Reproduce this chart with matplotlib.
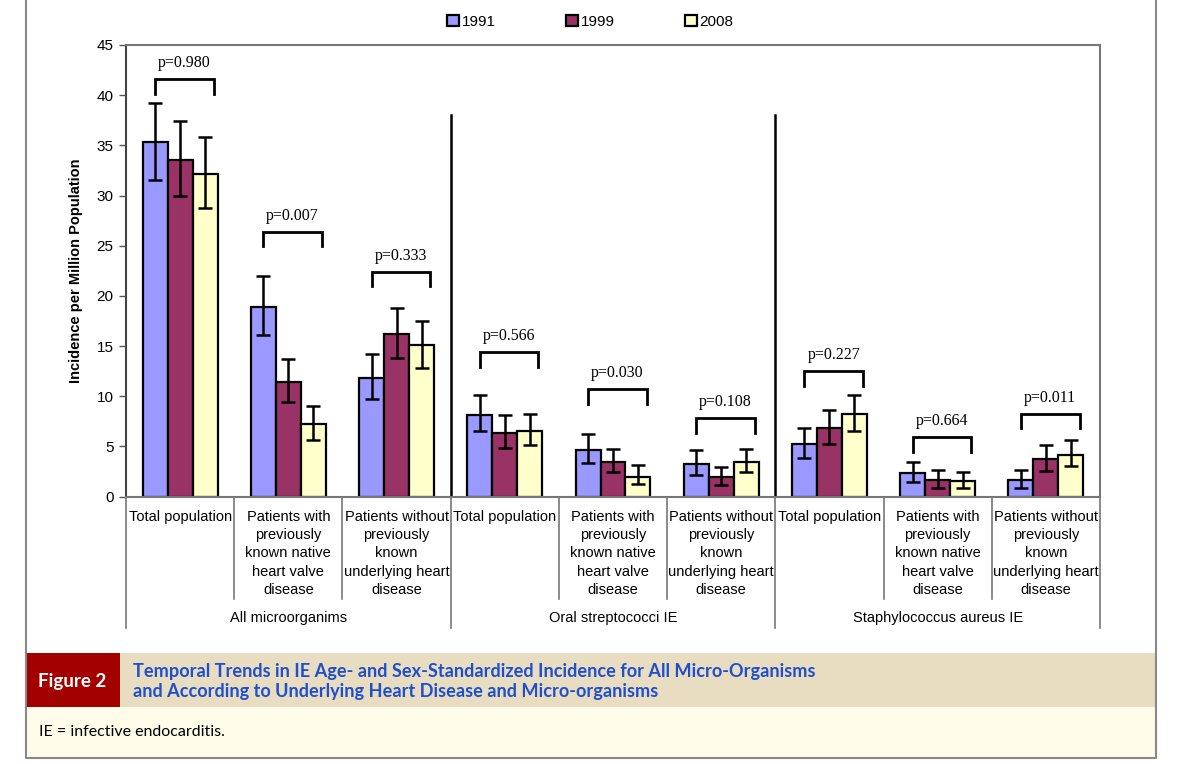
import matplotlib
matplotlib.use('Agg')
import matplotlib.pyplot as plt
from matplotlib.patches import Rectangle
from matplotlib.lines import Line2D
import numpy as np

plt.rcParams['font.family'] = ['Liberation Sans', 'DejaVu Sans']

years = ['1991', '1999', '2008']
categories = ['Total population',
              'Patients with\npreviously\nknown native\nheart valve\ndisease',
              'Patients without\npreviously\nknown\nunderlying heart\ndisease'] * 3
groups = ['All microorganims', 'Oral streptococci IE', 'Staphylococcus aureus IE']

y1991 = [35.3, 18.9, 11.8, 8.1, 4.6, 3.2, 5.2, 2.3, 1.6]
lo1991 = [31.5, 16.1, 9.7, 6.5, 3.3, 2.1, 3.8, 1.4, 0.8]
hi1991 = [39.2, 22.0, 14.2, 10.1, 6.2, 4.6, 6.8, 3.4, 2.6]
y1999 = [33.5, 11.4, 16.2, 6.3, 3.4, 1.9, 6.8, 1.6, 3.7]
lo1999 = [30.0, 9.4, 13.8, 4.8, 2.4, 1.1, 5.2, 0.8, 2.5]
hi1999 = [37.4, 13.7, 18.8, 8.1, 4.7, 2.9, 8.6, 2.6, 5.1]
y2008 = [32.1, 7.2, 15.1, 6.5, 1.9, 3.4, 8.2, 1.5, 4.1]
lo2008 = [28.8, 5.6, 12.8, 5.1, 1.2, 2.4, 6.5, 0.8, 3.0]
hi2008 = [35.8, 9.0, 17.5, 8.2, 3.1, 4.7, 10.1, 2.4, 5.6]

p_labels = ['p=0.980', 'p=0.007', 'p=0.333', 'p=0.566', 'p=0.030',
            'p=0.108', 'p=0.227', 'p=0.664', 'p=0.011']
p_height = [41.6, 26.4, 22.4, 14.4, 10.7, 7.8, 12.5, 5.9, 8.25]

colors = ['#9999FF', '#993366', '#FFFFCC']

W, H = 1199, 764
fig = plt.figure(figsize=(W / 100, H / 100), dpi=100)
fig.patch.set_facecolor('white')


def fx(px):
    return px / W


def fy(py):
    return 1 - py / H


ax_l, ax_r, ax_t, ax_b = 126, 1100, 45, 496.5
ax = fig.add_axes([fx(ax_l), fy(ax_b), fx(ax_r - ax_l), (ax_b - ax_t) / H])

x = np.arange(len(categories))
bw = 0.231
series = [(y1991, lo1991, hi1991), (y1999, lo1999, hi1999), (y2008, lo2008, hi2008)]
handles = []
for i, (vals, lo, hi) in enumerate(series):
    vals = np.array(vals)
    err = [vals - np.array(lo), np.array(hi) - vals]
    b = ax.bar(x + (i - 1) * bw, vals, bw, color=colors[i], edgecolor='black',
               linewidth=1.6, label=years[i], zorder=2)
    ax.errorbar(x + (i - 1) * bw, vals, yerr=err, fmt='none', ecolor='black',
                elinewidth=1.8, capsize=5, capthick=1.8, zorder=3)
    handles.append(b)

# p-value brackets
for i, (lab, h) in enumerate(zip(p_labels, p_height)):
    xl = x[i] - bw
    xr = x[i] + bw + 0.08
    ax.plot([xl, xl, xr, xr], [h - 1.45, h, h, h - 1.45], color='black',
            lw=2, solid_joinstyle='miter', zorder=3)
    ax.text((xl + xr) / 2, h + 1.6, lab, ha='center', va='center',
            family=['Liberation Serif'], fontsize=11.5)

# group separators inside the plot
for xs in [2.5, 5.5]:
    ax.plot([xs, xs], [0, 38], color='black', lw=1.8, zorder=1)

ax.set_xlim(-0.5, 8.5)
ax.set_ylim(0, 45)
ax.set_yticks(range(0, 46, 5))
ax.set_xticks([])
ax.tick_params(axis='y', direction='out', length=5, width=1, color='#555555',
               labelsize=11, pad=4)
for s in ax.spines.values():
    s.set_color('#777777')
    s.set_linewidth(1.5)
ax.spines['left'].set_color('#444444')
ax.set_ylabel('Incidence per Million Population', fontsize=10.5,
              fontweight='bold', labelpad=10)

# category labels and dividers below the axis
tr = ax.get_xaxis_transform()
scale = ax_b - ax_t


def ay(py):
    return (ax_b - py) / scale


for i, lab in enumerate(categories):
    ax.text(x[i], ay(510), lab, transform=tr, ha='center', va='top',
            fontsize=10.5, linespacing=1.38, clip_on=False)
for xb in np.arange(-0.5, 9, 1):
    outer = (xb + 0.5) % 3 == 0
    ybot = 628 if outer else 599
    ax.plot([xb, xb], [0, ay(ybot)], transform=tr, color='#777777', lw=1.2,
            clip_on=False)
for g, lab in enumerate(groups):
    ax.text(3 * g + 1, ay(618), lab, transform=tr, ha='center', va='center',
            fontsize=10.5, clip_on=False)

fig.legend(handles=handles, labels=years, loc='center',
           bbox_to_anchor=(0.4925, fy(22)), ncol=3, frameon=False,
           fontsize=11, handlelength=0.75, handleheight=0.75,
           handletextpad=0.2, columnspacing=4.6)

# page frame and caption
gray = '#888888'
fig.add_artist(Rectangle((fx(25.7), fy(707)), fx(1156 - 25.7), (707 - 653) / H,
                         transform=fig.transFigure, facecolor='#E8DDC0',
                         edgecolor='none'))
fig.add_artist(Rectangle((fx(25.7), fy(707)), fx(120 - 25.7), (707 - 653) / H,
                         transform=fig.transFigure, facecolor='#A30000',
                         edgecolor='none'))
fig.add_artist(Rectangle((fx(25.7), fy(758)), fx(1156 - 25.7), (758 - 707) / H,
                         transform=fig.transFigure, facecolor='#FFFDE9',
                         edgecolor='none'))
fig.add_artist(Line2D([fx(25.7), fx(25.7), fx(1156), fx(1156)],
                      [1, fy(758), fy(758), 1], transform=fig.transFigure,
                      color=gray, lw=1.5))
fig.text(fx(72), fy(681), 'Figure 2', ha='center', va='center', color='white',
         fontsize=13.5, fontweight='bold', family=['Lato', 'DejaVu Sans'])
fig.text(fx(133), fy(671), 'Temporal Trends in IE Age- and Sex-Standardized Incidence for All Micro-Organisms',
         ha='left', va='center', color='#1F4FCC', fontsize=13.1, fontweight='bold',
         family=['Lato', 'DejaVu Sans'])
fig.text(fx(133), fy(692), 'and According to Underlying Heart Disease and Micro-organisms',
         ha='left', va='center', color='#1F4FCC', fontsize=13.1, fontweight='bold',
         family=['Lato', 'DejaVu Sans'])
fig.text(fx(39), fy(732), 'IE = infective endocarditis.', ha='left', va='center',
         color='black', fontsize=11.5, family=['Lato', 'DejaVu Sans'])

fig.savefig('out.png', dpi=100)
